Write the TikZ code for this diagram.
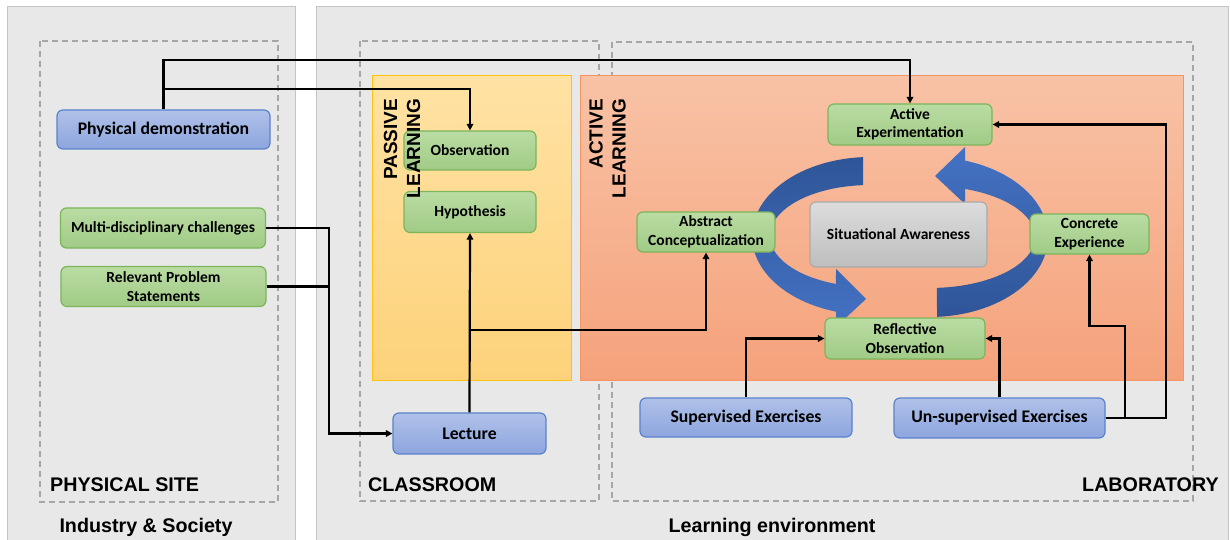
\documentclass[tikz,border=0pt]{standalone}
\usepackage{fontspec}
\newfontfamily\carl{Carlito}
\newfontfamily\arl{Liberation Sans}
\usetikzlibrary{arrows.meta}
\definecolor{panelfill}{HTML}{E8E8E8}
\definecolor{panelborder}{HTML}{C4C4C4}
\definecolor{dashcol}{HTML}{A6A6A6}
\definecolor{gtop}{HTML}{BADCA3}
\definecolor{gbot}{HTML}{A0CB86}
\definecolor{gborder}{HTML}{7CB55A}
\definecolor{btop}{HTML}{B0C1E9}
\definecolor{bbot}{HTML}{8DA5DE}
\definecolor{bborder}{HTML}{5A82CC}
\definecolor{stop}{HTML}{DCDCDC}
\definecolor{sbot}{HTML}{BEBEBE}
\definecolor{sborder}{HTML}{AAAAAA}
\definecolor{ytop}{HTML}{FFE2A4}
\definecolor{ybot}{HTML}{FDD27A}
\definecolor{yborder}{HTML}{FFC20E}
\definecolor{otop}{HTML}{F8C2A6}
\definecolor{obot}{HTML}{F5A27B}
\definecolor{oborder}{HTML}{F39562}
\definecolor{darkblue}{HTML}{2F5597}
\definecolor{midblue}{HTML}{4472C4}
\tikzset{
  panel/.style={fill=panelfill, draw=panelborder, line width=1pt},
  dbox/.style={draw=dashcol, line width=1.6pt, dash pattern=on 6pt off 4pt},
  conn/.style={line width=2.2pt, black},
  arr/.style={conn, -{Triangle[length=6.5pt,width=6.5pt]}},
  box/.style={rounded corners=6pt, line width=1.2pt, inner sep=0pt, align=center,
    font=\carl\bfseries\fontsize{15.5}{18.5}\selectfont},
  gbox/.style={box, draw=gborder, top color=gtop, bottom color=gbot},
  bbox/.style={box, draw=bborder, top color=btop, bottom color=bbot, font=\carl\bfseries\fontsize{17.7}{20}\selectfont},
  sbox/.style={box, draw=sborder, top color=stop, bottom color=sbot},
  biglabel/.style={font=\arl\bfseries\fontsize{19.7}{23}\selectfont, inner sep=0pt},
  sidelabel/.style={font=\arl\bfseries\fontsize{19}{23}\selectfont, inner sep=0pt, rotate=90, align=right},
}
\begin{document}
\begin{tikzpicture}[x=1pt,y=-1pt]
\useasboundingbox (0,0) rectangle (1230,540);
\fill[white] (0,0) rectangle (1230,540);
% panels
\draw[panel] (7,7) rectangle (295,548);
\draw[panel] (316,7) rectangle (1228,548);
% dashed areas
\draw[dbox] (40,41) rectangle (278,502);
\draw[dbox] (360,41) rectangle (599,501);
\draw[dbox] (612,42) rectangle (1193,501);
% learning zones
\shade[top color=ytop, bottom color=ybot] (372,76) rectangle (571,380);
\draw[yborder, line width=1pt] (372,76) rectangle (571,380);
\shade[top color=otop, bottom color=obot] (580,76) rectangle (1183,380);
\draw[oborder, line width=1pt] (580,76) rectangle (1183,380);
% cycle arrows
\shade[top color=darkblue, bottom color=midblue]
  plot[domain=266.6:106.7, samples=50] ({870+118*cos(\x)}, {236+79*sin(\x)})
  -- (836,327) -- (866,299) -- (836,269)
  -- plot[domain=109.9:266, samples=50] ({870+100*cos(\x)}, {236+51*sin(\x)})
  -- cycle;
\shade[top color=midblue, bottom color=darkblue]
  plot[domain=86.6:-72.7, samples=50] ({930+118*cos(\x)}, {237+80*sin(\x)})
  -- (965,147) -- (935,176) -- (965,204)
  -- plot[domain=-70.5:86.2, samples=50] ({930+105*cos(\x)}, {237+51*sin(\x)})
  -- cycle;
% nodes
\node[bbox, minimum width=213pt, minimum height=39pt] (pd) at (163.5,129.5) {Physical demonstration};
\node[gbox, minimum width=205pt, minimum height=40pt] (mdc) at (163,228) {Multi-disciplinary challenges};
\node[gbox, minimum width=205pt, minimum height=40pt] (rps) at (163.5,286.5) {Relevant Problem\\Statements};
\node[gbox, minimum width=132pt, minimum height=39pt] (obs) at (470,150.5) {Observation};
\node[gbox, minimum width=132pt, minimum height=41pt] (hyp) at (470,212) {Hypothesis};
\node[bbox, minimum width=153pt, minimum height=41pt] (lec) at (469.5,433.5) {Lecture};
\node[bbox, minimum width=212pt, minimum height=39pt] (se) at (746,417.5) {Supervised Exercises};
\node[bbox, minimum width=211pt, minimum height=40pt] (ue) at (999.5,418) {Un-supervised Exercises};
\node[gbox, minimum width=164pt, minimum height=41pt] (ae) at (910,124.5) {Active\\Experimentation};
\node[gbox, minimum width=138pt, minimum height=40pt] (ac) at (706,232) {Abstract\\Conceptualization};
\node[sbox, minimum width=177pt, minimum height=65pt] (sa) at (898.5,234.5) {Situational Awareness};
\node[gbox, minimum width=119pt, minimum height=40pt] (ce) at (1089.5,234) {Concrete\\Experience};
\node[gbox, minimum width=160pt, minimum height=41pt] (ro) at (905,338.5) {Reflective\\Observation};
% side labels
\node[sidelabel] (pl) at (402,148.5) {PASSIVE\\LEARNING};
\node[sidelabel] (al) at (607.5,148.5) {ACTIVE\\LEARNING};
% area labels
\node[biglabel, anchor=west] (ps) at (50,485) {PHYSICAL SITE};
\node[biglabel, anchor=west] (cr) at (368,485) {CLASSROOM};
\node[biglabel, anchor=west] (lab) at (1082,485) {LABORATORY};
\node[biglabel] (is) at (146,527) {Industry \& Society};
\node[biglabel] (le) at (772,527) {Learning environment};
% connectors
\coordinate (top1) at (0,60);
\coordinate (top2) at (0,89);
\coordinate (vx) at (329,0);
\coordinate (b1) at (0,330);
\coordinate (v2) at (1125,326);
\coordinate (v3) at (1166,0);
\draw[arr] (pd.north) -- (pd.north |- top1) -| (ae.north);
\draw[arr] (pd.north |- top2) -| (obs.north);
\draw[arr] (mdc.east) -- (mdc.east -| vx) -- (vx |- lec.west) -- (lec.west);
\draw[conn] (rps.east) -- (rps.east -| vx);
\draw[arr] (lec.north) -- (hyp.south);
\draw[arr] (lec.north |- b1) -| (ac.south);
\draw[arr] (se.north) |- (ro.west);
\draw[arr] (ue.north) |- (ro.east);
\draw[arr] (ue.east) -- (ue.east -| v2) -- (v2) -| (ce.south);
\draw[arr] (ue.east) -| (v3 |- ae.east) -- (ae.east);
\end{tikzpicture}
\end{document}
